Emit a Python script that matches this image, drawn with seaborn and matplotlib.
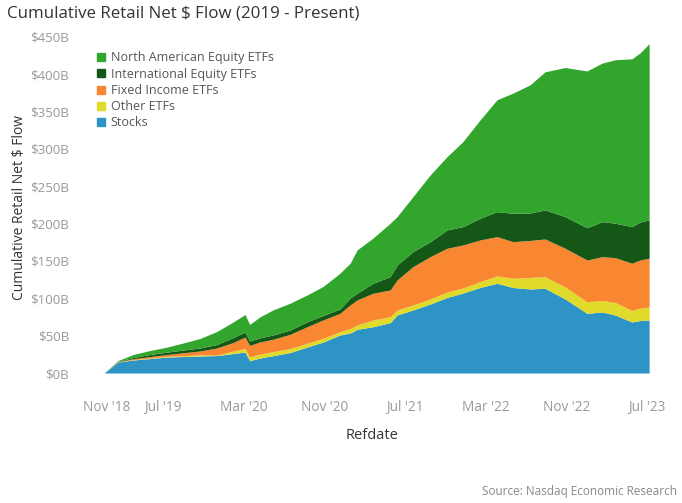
import pandas as pd
import seaborn as sns
import matplotlib.pyplot as plt
from matplotlib.lines import Line2D
from matplotlib.ticker import FuncFormatter

# sample dates
dates = ["2019-01-03", "2019-02-14", "2019-03-31", "2019-05-22", "2019-07-12",
         "2019-08-30", "2019-10-20", "2019-12-10", "2020-01-28", "2020-03-04",
         "2020-03-18", "2020-04-18", "2020-05-28", "2020-07-18", "2020-09-08",
         "2020-10-26", "2020-12-16", "2021-01-16", "2021-02-06", "2021-03-26",
         "2021-05-17", "2021-06-07", "2021-07-25", "2021-09-15", "2021-11-05",
         "2021-12-23", "2022-02-13", "2022-04-05", "2022-05-23", "2022-07-14",
         "2022-08-28", "2022-10-28", "2023-01-02", "2023-02-17", "2023-03-28",
         "2023-05-18", "2023-06-12", "2023-07-09"]

# layer thickness in $B (stacked bottom -> top)
stocks = [0, 14.7, 17.4, 19.4, 21.4, 22.1, 22.8, 23.4, 26.1, 28.1,
          16.5, 20.1, 23.2, 27.4, 34.8, 41.5, 50.9, 53.6, 58.5, 62.0,
          67.4, 77.7, 84.4, 92.4, 101.1, 107.1, 114.5, 120.1, 114.5, 112.5,
          113.4, 99.1, 79.9, 81.7, 77.7, 68.3, 70.3, 71.0]
other_etfs = [0, 0.3, 0.5, 0.7, 0.9, 1.1, 1.6, 0.7, 3.3, 4.7,
              5.0, 5.4, 5.4, 5.4, 5.0, 5.0, 4.4, 6.0, 5.8, 9.0,
              8.0, 6.7, 6.7, 6.7, 7.4, 6.7, 8.0, 9.8, 12.3, 15.4,
              15.5, 16.1, 15.5, 15.4, 16.7, 15.4, 16.7, 17.4]
fixed_income = [0, 0.4, 1.1, 2.0, 2.4, 3.9, 5.1, 9.4, 11.4, 15.4,
                15.4, 16.1, 16.6, 19.0, 22.2, 24.5, 24.6, 31.5, 33.5, 35.8,
                35.8, 40.2, 51.3, 56.6, 58.5, 57.6, 55.6, 52.6, 49.0, 49.5,
                50.5, 51.8, 55.8, 58.6, 60.0, 63.2, 64.3, 65.2]
intl_equity = [0, 0.4, 1.7, 2.7, 3.3, 3.7, 4.0, 4.7, 6.7, 6.7,
               6.0, 5.4, 5.8, 5.8, 6.7, 6.0, 5.8, 9.4, 9.0, 13.4,
               17.8, 20.1, 20.1, 20.1, 24.5, 24.5, 29.1, 33.5, 38.0, 36.8,
               38.8, 42.3, 43.2, 46.9, 46.1, 49.0, 50.9, 51.3]
na_equity = [0, 0.9, 4.0, 5.4, 6.7, 9.4, 12.7, 17.4, 20.8, 23.4,
             22.1, 28.1, 33.5, 35.8, 35.8, 38.8, 47.8, 46.5, 58.0, 60.3,
             71.5, 64.7, 73.6, 89.3, 98.1, 113.8, 131.6, 149.6, 160.7, 171.4,
             184.8, 199.5, 209.8, 212.1, 218.7, 224.5, 226.3, 235.7]

series = ["Stocks", "Other ETFs", "Fixed Income ETFs",
          "International Equity ETFs", "North American Equity ETFs"]
colors = ["#2e94c5", "#e0db2b", "#f98732", "#155716", "#32a62c"]

tick_dates = ["2018-11-01", "2019-07-01", "2020-03-01", "2020-11-01",
              "2021-07-01", "2022-03-01", "2022-11-01", "2023-07-01"]
tick_labels = ["Nov '18", "Jul '19", "Mar '20", "Nov '20",
               "Jul '21", "Mar '22", "Nov '22", "Jul '23"]

df = pd.DataFrame({"Refdate": pd.to_datetime(dates),
                   "Stocks": stocks, "Other ETFs": other_etfs,
                   "Fixed Income ETFs": fixed_income,
                   "International Equity ETFs": intl_equity,
                   "North American Equity ETFs": na_equity})

sns.set_theme(style="white")
plt.rcParams["font.family"] = ["Open Sans", "DejaVu Sans"]

fig = plt.figure(figsize=(6.82, 5.03), dpi=100)
ax = fig.add_axes([79 / 682, 118 / 503, 587 / 682, 355 / 503])

ax.stackplot(df["Refdate"], [df[s] for s in series], colors=colors,
             linewidth=0)

ax.set_xlim(pd.Timestamp("2018-10-19"), pd.Timestamp("2023-08-29"))
ax.set_ylim(-16, 459)
ax.set_yticks(range(0, 451, 50))
ax.yaxis.set_major_formatter(FuncFormatter(lambda v, p: f"${v:.0f}B"))
ax.set_xticks(pd.to_datetime(tick_dates))
ax.set_xticklabels(tick_labels)
ax.get_xticklabels()[0].set_horizontalalignment("left")
ax.tick_params(axis="both", colors="#999999", labelsize=9.6, length=0)
ax.tick_params(axis="x", pad=11, labelsize=9.8)
ax.tick_params(axis="y", pad=7)
for sp in ax.spines.values():
    sp.set_visible(False)
ax.grid(False)

ax.set_xlabel("Refdate", fontsize=10.5, color="#333333", labelpad=9)
ax.set_ylabel("Cumulative Retail Net $ Flow", fontsize=10, color="#333333",
              labelpad=2)

fig.text(7 / 682, 1 - 13 / 503, "Cumulative Retail Net $ Flow (2019 - Present)",
         fontsize=12.2, color="#333333", va="center", ha="left")
fig.text(677 / 682, 1 - 491 / 503, "Source: Nasdaq Economic Research",
         fontsize=8.5, color="#888888", va="center", ha="right")

handles = [Line2D([], [], marker="s", linestyle="", markersize=6,
                  color=colors[i]) for i in range(4, -1, -1)]
ax.legend(handles, series[::-1], loc="upper left",
          bbox_to_anchor=(95 / 682, 1 - 51.5 / 503),
          bbox_transform=fig.transFigure, frameon=False, fontsize=9,
          labelcolor="#555555", handletextpad=0.35, labelspacing=0.26,
          borderaxespad=0, borderpad=0, handlelength=0.9)

fig.savefig("out.png", dpi=100)
